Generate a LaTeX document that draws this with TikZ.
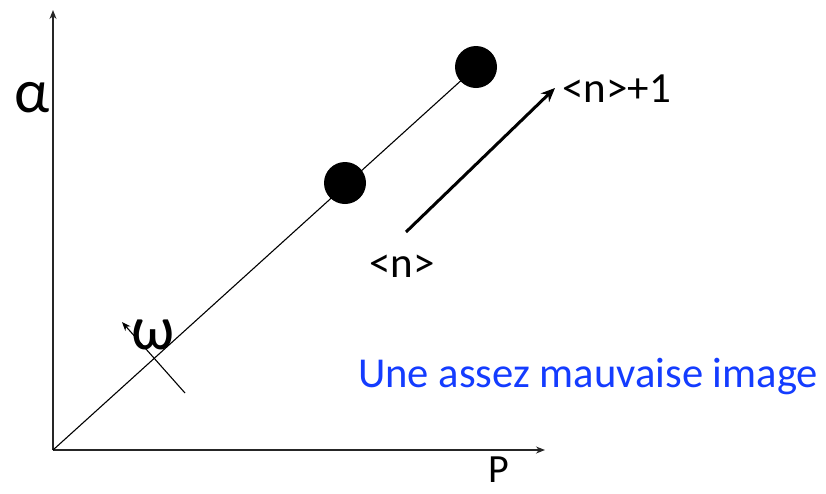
\documentclass[tikz,border=0pt]{standalone}
\usepackage{fontspec}
\setmainfont{Carlito}
\usetikzlibrary{arrows.meta}
\definecolor{labelblue}{RGB}{20,60,255}
\begin{document}
\begin{tikzpicture}[x=1pt,y=-1pt,
  axis/.style={line width=1.4pt,draw=black!85,-{Stealth[length=9pt,width=7pt]}},
  dot/.style={circle,fill=black,minimum size=42pt,inner sep=0pt},
  lbl/.style={inner sep=0pt,font=\fontsize{43}{46}\selectfont},
  greek/.style={inner sep=0pt,font=\fontsize{62}{66}\selectfont},
  thinline/.style={line width=1.1pt},
  bigarrow/.style={line width=3pt,-{Stealth[length=14pt,width=12pt]}}]
\useasboundingbox (0,0) rectangle (826,493);
\coordinate (O) at (53,450);
\coordinate (ytop) at (53,10);
\coordinate (xend) at (545,450);
\draw[axis] (O) -- (ytop);
\draw[axis] (O) -- (xend);
\node[dot] (d1) at (345,183) {};
\node[dot] (d2) at (476,67) {};
\draw[thinline] (O) -- (d2.center);
\coordinate (wa) at (185,393);
\coordinate (wb) at (122,322);
\draw[thinline,-{Stealth[length=9pt,width=7pt]}] (wa) -- (wb);
\coordinate (n0) at (406,232);
\coordinate (n1) at (555,88);
\draw[bigarrow] (n0) -- (n1);
\node[greek] (alpha) at (32,98) {α};
\node[greek] (omega) at (153,335) {ω};
\node[lbl,anchor=base,font=\fontsize{40}{42}\selectfont] (p) at (499,482) {P};
\node[lbl,anchor=base] (n) at (402,277) {<n>};
\node[lbl,anchor=base west] (np1) at (562,102) {<n>+1};
\node[lbl,anchor=base west,text=labelblue,font=\fontsize{42.6}{46}\selectfont] (caption) at (358,387) {Une assez mauvaise image};
\end{tikzpicture}
\end{document}
